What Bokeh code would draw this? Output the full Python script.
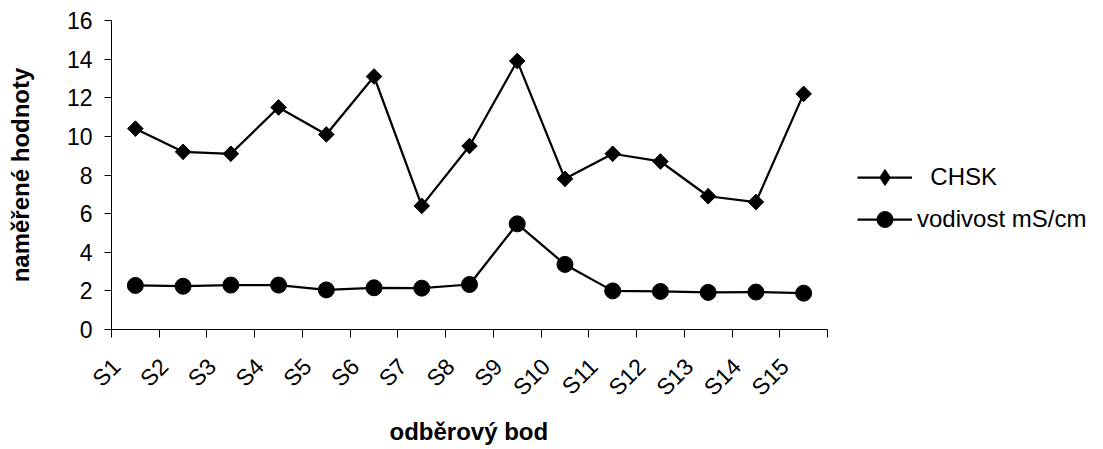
import math

from bokeh.embed import file_html
from bokeh.models import (ColumnDataSource, FixedTicker, Legend, LegendItem,
                          LinearAxis, Range1d, Title)
from bokeh.plotting import figure
from bokeh.resources import INLINE

# sampling points and measured values
categories = ["S1", "S2", "S3", "S4", "S5", "S6", "S7", "S8",
              "S9", "S10", "S11", "S12", "S13", "S14", "S15"]
chsk = [10.4, 9.2, 9.1, 11.5, 10.1, 13.1, 6.4, 9.5,
        13.9, 7.8, 9.1, 8.7, 6.9, 6.6, 12.2]
vodivost = [2.28, 2.24, 2.30, 2.30, 2.05, 2.16, 2.14, 2.33,
            5.47, 3.37, 2.00, 1.97, 1.92, 1.94, 1.88]
y_ticks = [0, 2, 4, 6, 8, 10, 12, 14, 16]
series_names = ["\u00a0\u00a0CHSK", "vodivost mS/cm"]
x_title = "odběrový bod"
y_title = "naměřené hodnoty"

FONT = "Liberation Sans"

# layout in screen pixels
W, H = 1103, 449
LEFT, TOP, BOTTOM = 111, 20, 120
AXIS_RIGHT = 827          # where the category axis ends
LABEL_DX = -19            # rotated tick labels sit a little left of the slot centre
X_TITLE_HALF = 80         # half the width of the bold x-axis title

n = len(categories)
px_per_unit = (AXIS_RIGHT - LEFT) / n
# the frame runs to the right edge so the legend can live inside it;
# the axis itself is limited to the category slots via `bounds`
x_end = (W - LEFT) / px_per_unit

# each category occupies one unit; points sit in the middle of their slot
xc = [i + 0.5 for i in range(n)]
xl = [x + LABEL_DX / px_per_unit for x in xc]
src = ColumnDataSource(dict(x=xc, chsk=chsk, vod=vodivost))

p = figure(width=W, height=H, output_backend="svg", toolbar_location=None,
           x_range=Range1d(0, x_end), y_range=Range1d(y_ticks[0], y_ticks[-1]),
           x_axis_type=None, y_axis_type=None,
           min_border_left=LEFT, min_border_right=0,
           min_border_top=TOP, min_border_bottom=BOTTOM)
p.outline_line_color = None
p.background_fill_color = "white"
p.border_fill_color = "white"

# x axis: slot boundaries get the tick marks, labels go near the slot centres
xaxis = LinearAxis(
    ticker=FixedTicker(ticks=xl, minor_ticks=list(range(n + 1))),
    major_label_overrides={x: c for x, c in zip(xl, categories)},
    major_label_orientation=math.pi / 4,
    bounds=(0, n),
)
xaxis.major_tick_line_color = None
xaxis.major_tick_out = 0
xaxis.major_tick_in = 0
xaxis.minor_tick_out = 8
xaxis.minor_tick_in = 0
xaxis.minor_tick_line_color = "black"
xaxis.major_label_standoff = 25
p.add_layout(xaxis, "below")

# x-axis title, centred under the category slots rather than the whole frame
xt = Title(text=x_title, align="left",
           offset=(AXIS_RIGHT - LEFT) / 2 - X_TITLE_HALF,
           text_font=FONT, text_font_size="24px", text_font_style="bold",
           text_color="black", standoff=6)
p.add_layout(xt, "below")

yaxis = LinearAxis(ticker=FixedTicker(ticks=y_ticks, minor_ticks=[]),
                   axis_label=y_title)
yaxis.major_tick_out = 7
yaxis.major_tick_in = 0
yaxis.major_tick_line_color = "black"
yaxis.major_label_standoff = 12
yaxis.axis_label_standoff = 30
yaxis.axis_label_text_font = FONT
yaxis.axis_label_text_font_size = "24px"
yaxis.axis_label_text_font_style = "bold"
yaxis.axis_label_text_color = "black"
p.add_layout(yaxis, "left")

for ax in (xaxis, yaxis):
    ax.axis_line_color = "black"
    ax.axis_line_width = 1
    ax.major_label_text_font = FONT
    ax.major_label_text_font_size = "23px"
    ax.major_label_text_color = "black"

# CHSK series: line with diamond markers
l1 = p.line("x", "chsk", source=src, line_color="black", line_width=2.25)
d1 = p.scatter("x", "chsk", source=src, marker="diamond", size=15,
               fill_color="black", line_color="black")
s1 = p.scatter("x", "chsk", source=src, marker="square", size=11,
               angle=math.pi / 4, fill_color="black", line_color="black")

# conductivity series: line with round markers
l2 = p.line("x", "vod", source=src, line_color="black", line_width=2.25)
c2 = p.scatter("x", "vod", source=src, marker="circle", size=16,
               fill_color="black", line_color="black")

# legend to the right of the category axis (offsets in screen pixels from
# the frame's bottom-left corner)
legend = Legend(items=[LegendItem(label=series_names[0], renderers=[l1, d1]),
                       LegendItem(label=series_names[1], renderers=[l2, c2])],
                location=(857 - LEFT, 90))
legend.margin = 0
legend.padding = 0
legend.spacing = 2
legend.glyph_width = 55
legend.glyph_height = 40
legend.label_standoff = 5
legend.label_text_font = FONT
legend.label_text_font_size = "24px"
legend.label_text_color = "black"
legend.border_line_color = None
legend.background_fill_alpha = 0
p.add_layout(legend, "center")

open("out.html", "w").write(file_html(p, INLINE))
